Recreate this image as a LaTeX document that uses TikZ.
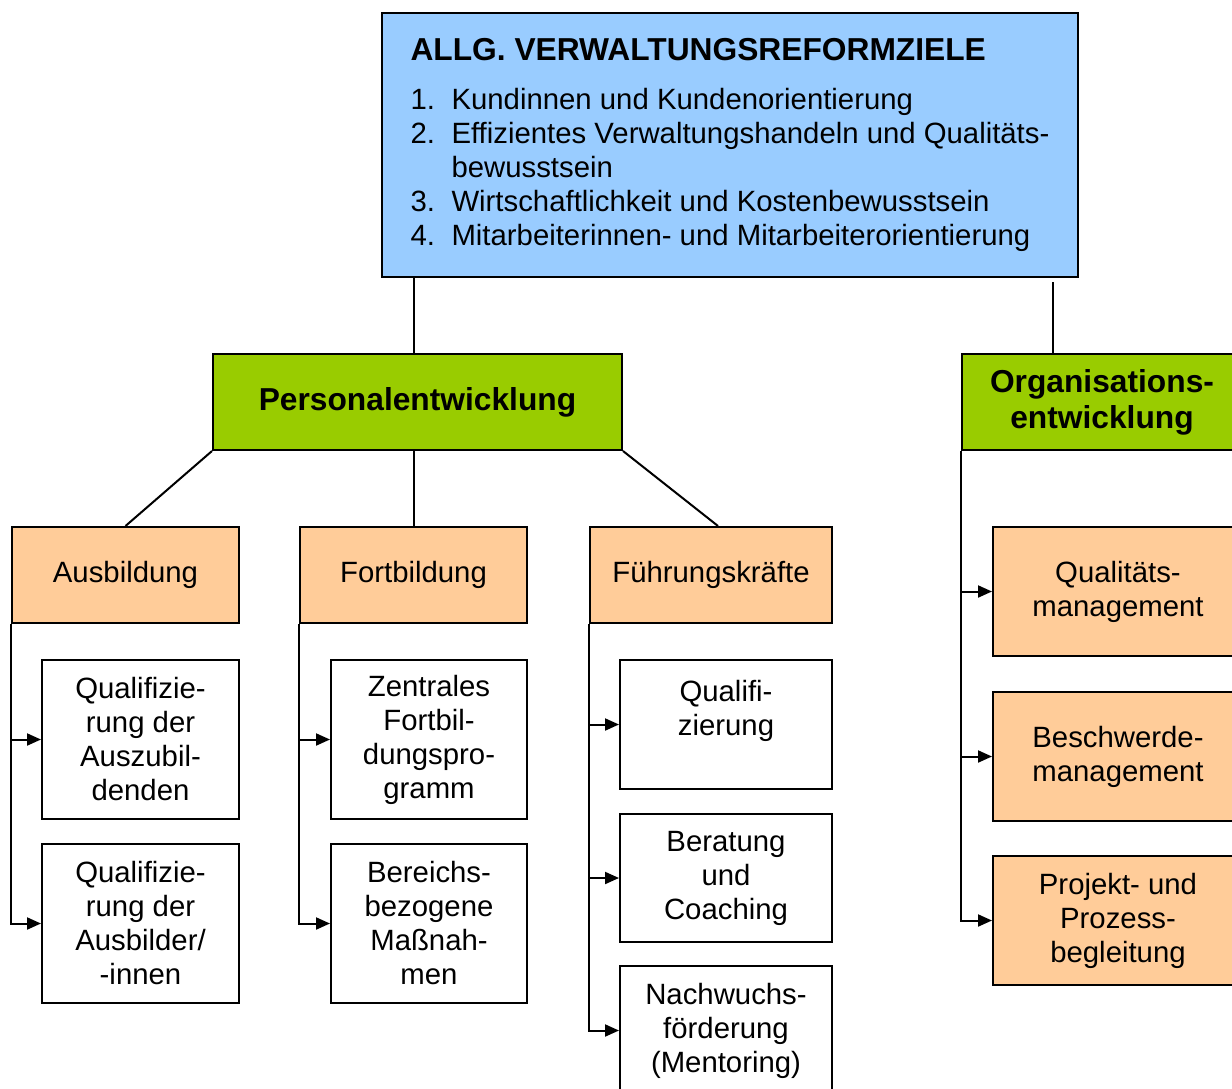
\documentclass[tikz,border=0pt]{standalone}
\usepackage{fontspec}
\setmainfont{Liberation Sans}
\usetikzlibrary{arrows.meta,calc}
\definecolor{topblue}{HTML}{99CCFF}
\definecolor{pegreen}{HTML}{99CC00}
\definecolor{peach}{HTML}{FFCC99}
\tikzset{
  box/.style={draw=black, line width=1.5pt, inner sep=0pt, align=center,
    font=\fontsize{22}{25.5}\selectfont},
  sz/.style 2 args={minimum width=#1*0.75pt, minimum height=#2*0.75pt},
  headbox/.style={box, fill=pegreen, font=\fontsize{23.8}{27}\selectfont\bfseries},
  catbox/.style={box, fill=peach},
  leafbox/.style={box, fill=white},
  link/.style={line width=1.5pt},
  arr/.style={line width=1.5pt, -{Triangle[length=10.5pt,width=9pt]}},
}
\newcommand{\numitem}[1]{\makebox[30.75pt][l]{#1}}
\begin{document}
\begin{tikzpicture}[x=0.75pt,y=-0.75pt]
\useasboundingbox (0,0) rectangle (1232,1089);
\clip (0,0) rectangle (1232,1089);

% top goals box
\node[box, fill=topblue, sz={696}{264}, align=left] (goals) at (730,145)
 {{\fontsize{23.8}{27}\selectfont\bfseries ALLG. VERWALTUNGSREFORMZIELE}\\[11pt]
  \numitem{1.}Kundinnen und Kundenorientierung\\
  \numitem{2.}Effizientes Verwaltungshandeln und Qualitäts-\\
  \hspace*{30.75pt}bewusstsein\\
  \numitem{3.}Wirtschaftlichkeit und Kostenbewusstsein\\
  \numitem{4.}Mitarbeiterinnen- und Mitarbeiterorientierung};

% main branches
\node[headbox, sz={409}{96}] (pe) at (417.5,402) {Personalentwicklung};
\node[headbox, sz={280}{96}] (org) at (1102,402) {Organisations-\\entwicklung};

% categories
\node[catbox, sz={227}{96}] (aus) at (125.5,575) {Ausbildung};
\node[catbox, sz={227}{96}] (fort) at (413.5,575) {Fortbildung};
\node[catbox, sz={242}{96}] (fue) at (711,575) {Führungskräfte};

% leaves Ausbildung
\node[leafbox, sz={197}{159}] (a1) at (140.5,739.5) {Qualifizie-\\rung der\\Auszubil-\\denden};
\node[leafbox, sz={197}{159}] (a2) at (140.5,923.5) {Qualifizie-\\rung der\\Ausbilder/\\-innen};
% leaves Fortbildung
\node[leafbox, sz={196}{159}] (f1) at (429,739.5) {Zentrales\\Fortbil-\\dungspro-\\gramm};
\node[leafbox, sz={196}{159}] (f2) at (429,923.5) {Bereichs-\\bezogene\\Maßnah-\\men};
% leaves Führungskräfte
\node[leafbox, sz={212}{129}] (g1) at (726,724.5) {Qualifi-\\zierung\\\mbox{}};
\node[leafbox, sz={212}{128}] (g2) at (726,878) {Beratung\\und\\Coaching};
\node[leafbox, sz={212}{129}] (g3) at (726,1030.5) {Nachwuchs-\\förderung\\(Mentoring)};
% leaves Organisationsentwicklung
\node[catbox, sz={250}{129}] (o1) at (1118,591.5) {Qualitäts-\\management};
\node[catbox, sz={250}{129}] (o2) at (1118,756.5) {Beschwerde-\\management};
\node[catbox, sz={250}{129}] (o3) at (1118,920.5) {Projekt- und\\Prozess-\\begleitung};

% connectors
\draw[link] (goals.south -| fort.north) -- (pe.north -| fort.north);
\draw[link] ($(goals.south west)+(672,4)$) -- ($(org.north west)+(92,0)$);
\draw[link] (pe.south west) -- (aus.north);
\draw[link] (pe.south -| fort.north) -- (fort.north);
\draw[link] (pe.south east) -- ($(fue.north)+(7,0)$);

\draw[arr] (aus.south west) |- (a2.west);
\draw[arr] (aus.south west |- a1.west) -- (a1.west);
\draw[arr] (fort.south west) |- (f2.west);
\draw[arr] (fort.south west |- f1.west) -- (f1.west);
\draw[arr] (fue.south west) |- (g3.west);
\draw[arr] (fue.south west |- g1.west) -- (g1.west);
\draw[arr] (fue.south west |- g2.west) -- (g2.west);
\draw[arr] (org.south west) |- (o3.west);
\draw[arr] (org.south west |- o1.west) -- (o1.west);
\draw[arr] (org.south west |- o2.west) -- (o2.west);
\end{tikzpicture}
\end{document}
